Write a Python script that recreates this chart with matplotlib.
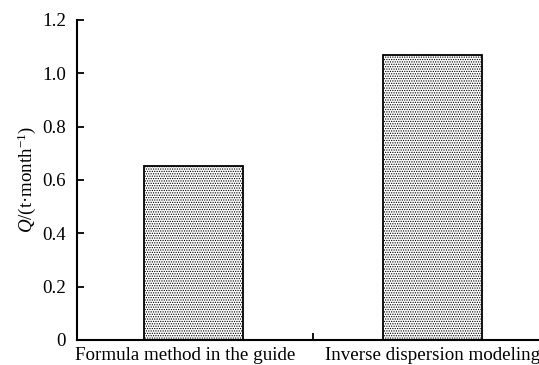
import matplotlib
matplotlib.use("Agg")
import matplotlib.pyplot as plt
from matplotlib.ticker import FuncFormatter
from matplotlib.transforms import ScaledTranslation

categories = ["Formula method in the guide", "Inverse dispersion modeling"]
values = [0.652, 1.068]
yticks = [0, 0.2, 0.4, 0.6, 0.8, 1.0, 1.2]

plt.rcParams['font.family'] = ['Liberation Serif', 'DejaVu Serif']
plt.rcParams['mathtext.fontset'] = 'custom'
plt.rcParams['mathtext.rm'] = 'Liberation Serif'
plt.rcParams['mathtext.it'] = 'Liberation Serif:italic'
plt.rcParams['hatch.color'] = '#555555'
plt.rcParams['hatch.linewidth'] = 0.6

fig = plt.figure(figsize=(5.39, 3.65), dpi=100)
ax = fig.add_axes([77/539, 25/365, 475/539, 320/365])

x = list(range(len(categories)))
ax.bar(x, values, width=0.415, facecolor='white', edgecolor='black',
       linewidth=1.3, hatch='.......')

ax.set_xlim(-0.49, 1.5)
ax.set_ylim(0, 1.2)
ax.set_yticks(yticks)
ax.yaxis.set_major_formatter(FuncFormatter(lambda v, p: "0" if v == 0 else f"{v:.1f}"))
ax.set_xticks(x)
ax.set_xticklabels(categories)
ax.set_xticks([0.5], minor=True)
ax.tick_params(axis='x', which='major', length=0, pad=5, labelsize=13.7)
ax.tick_params(axis='x', which='minor', direction='in', length=5, width=1.3)
ax.tick_params(axis='y', direction='in', length=5, width=1.3, labelsize=13.6, pad=8)

lbl = ax.get_xticklabels()[0]
lbl.set_transform(lbl.get_transform() + ScaledTranslation(-9/100, 0, fig.dpi_scale_trans))

for s in ['top', 'right']:
    ax.spines[s].set_visible(False)
for s in ['left', 'bottom']:
    ax.spines[s].set_linewidth(1.5)

ax.set_ylabel(r'$Q$/(t·month$^{-1}$)', fontsize=13.6, labelpad=3)

fig.savefig("out.png", dpi=100)
